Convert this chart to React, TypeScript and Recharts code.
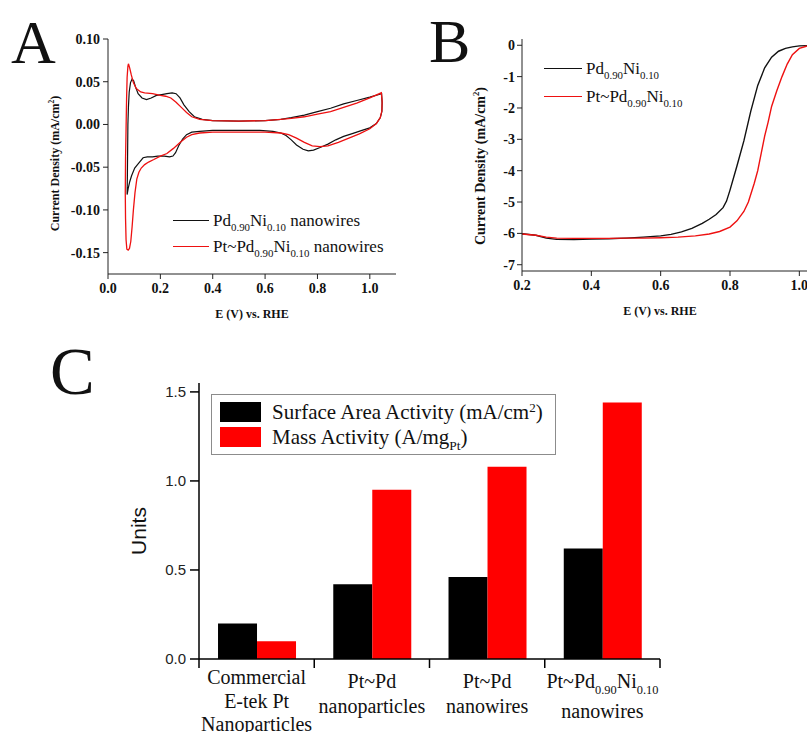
import React from "react";
import { LineChart, Line, BarChart, Bar, XAxis, YAxis, Legend } from "recharts";

const SERIF = '"Liberation Serif", "Times New Roman", serif';
const SANS = '"Liberation Sans", Arial, sans-serif';
const RED = "#ff0000";
const INK = "#111";

// ---- panel A: cyclic voltammograms (E vs RHE, current density) ----
const cvBlackE = [0.073, 0.074, 0.075, 0.076, 0.078, 0.081, 0.086, 0.092, 0.098, 0.105, 0.115, 0.13, 0.147, 0.165, 0.185, 0.205, 0.225, 0.245, 0.26, 0.275, 0.29, 0.31, 0.33, 0.36, 0.4, 0.5, 0.6, 0.66, 0.7, 0.75, 0.8, 0.85, 0.9, 0.95, 1.0, 1.045, 1.047, 1.046, 1.04, 1.025, 1.0, 0.97, 0.93, 0.9, 0.87, 0.84, 0.81, 0.785, 0.765, 0.745, 0.72, 0.7, 0.68, 0.66, 0.63, 0.58, 0.5, 0.4, 0.35, 0.32, 0.3, 0.285, 0.27, 0.258, 0.248, 0.235, 0.215, 0.19, 0.17, 0.15, 0.134, 0.115, 0.102, 0.09, 0.083, 0.077, 0.073];
const cvBlackJ = [-0.082, -0.06, -0.03, 0.0, 0.02, 0.038, 0.049, 0.053, 0.051, 0.044, 0.036, 0.031, 0.029, 0.031, 0.034, 0.035, 0.036, 0.037, 0.036, 0.031, 0.023, 0.015, 0.009, 0.006, 0.0045, 0.004, 0.0045, 0.006, 0.008, 0.011, 0.015, 0.019, 0.024, 0.028, 0.032, 0.036, 0.025, 0.015, 0.008, 0.001, -0.004, -0.007, -0.011, -0.014, -0.018, -0.023, -0.027, -0.03, -0.031, -0.029, -0.024, -0.018, -0.013, -0.01, -0.008, -0.007, -0.007, -0.007, -0.008, -0.009, -0.012, -0.017, -0.025, -0.033, -0.037, -0.038, -0.037, -0.037, -0.038, -0.038, -0.039, -0.046, -0.051, -0.06, -0.067, -0.075, -0.082];
const cvRedE = [0.078, 0.083, 0.089, 0.097, 0.108, 0.125, 0.14, 0.17, 0.2, 0.22, 0.24, 0.26, 0.28, 0.3, 0.32, 0.35, 0.4, 0.5, 0.6, 0.66, 0.7, 0.75, 0.8, 0.85, 0.9, 0.95, 1.0, 1.044, 1.047, 1.046, 1.04, 1.025, 1.0, 0.96, 0.92, 0.88, 0.84, 0.81, 0.78, 0.75, 0.72, 0.69, 0.66, 0.6, 0.5, 0.4, 0.35, 0.32, 0.3, 0.275, 0.25, 0.225, 0.2, 0.175, 0.155, 0.14, 0.127, 0.118, 0.11, 0.103, 0.097, 0.092, 0.087, 0.082, 0.077, 0.072, 0.069, 0.067, 0.066, 0.067, 0.069, 0.071, 0.073, 0.076, 0.078];
const cvRedJ = [0.071, 0.066, 0.058, 0.049, 0.042, 0.038, 0.037, 0.036, 0.034, 0.033, 0.031, 0.026, 0.02, 0.014, 0.009, 0.006, 0.0045, 0.004, 0.0045, 0.006, 0.007, 0.009, 0.012, 0.015, 0.02, 0.025, 0.031, 0.037, 0.027, 0.016, 0.008, 0.001, -0.005, -0.011, -0.016, -0.021, -0.025, -0.026, -0.025, -0.021, -0.016, -0.012, -0.01, -0.009, -0.009, -0.009, -0.01, -0.012, -0.015, -0.021, -0.028, -0.034, -0.037, -0.041, -0.044, -0.047, -0.051, -0.056, -0.064, -0.08, -0.1, -0.12, -0.137, -0.145, -0.147, -0.146, -0.135, -0.11, -0.08, -0.04, -0.005, 0.03, 0.055, 0.068, 0.071];
const cvTicksE = [0, 0.2, 0.4, 0.6, 0.8, 1.0];
const cvTicksJ = [-0.15, -0.1, -0.05, 0, 0.05, 0.1];
const cvNames = ["Pd_{0.90}Ni_{0.10} nanowires", "Pt~Pd_{0.90}Ni_{0.10} nanowires"];

// ---- panel B: ORR polarization curves ----
const lsvBlackE = [0.2, 0.24, 0.27, 0.3, 0.35, 0.4, 0.45, 0.5, 0.55, 0.6, 0.63, 0.66, 0.69, 0.72, 0.74, 0.76, 0.78, 0.79, 0.8, 0.82, 0.84, 0.86, 0.88, 0.9, 0.92, 0.94, 0.96, 0.98, 1.0, 1.03, 1.08];
const lsvBlackJ = [-6.01, -6.06, -6.15, -6.19, -6.2, -6.18, -6.17, -6.15, -6.12, -6.08, -6.03, -5.95, -5.84, -5.68, -5.55, -5.4, -5.18, -4.97, -4.62, -3.85, -3.05, -2.1, -1.28, -0.72, -0.38, -0.19, -0.1, -0.05, -0.02, -0.01, 0];
const lsvRedE = [0.2, 0.24, 0.27, 0.3, 0.35, 0.4, 0.45, 0.5, 0.55, 0.6, 0.65, 0.7, 0.74, 0.77, 0.8, 0.82, 0.84, 0.853, 0.87, 0.88, 0.89, 0.9, 0.91, 0.92, 0.935, 0.95, 0.965, 0.98, 1.0, 1.02, 1.04, 1.08];
const lsvRedJ = [-6.02, -6.06, -6.12, -6.15, -6.16, -6.16, -6.16, -6.15, -6.15, -6.14, -6.12, -6.08, -6.02, -5.94, -5.8, -5.6, -5.3, -5.0, -4.4, -4.0, -3.45, -2.9, -2.45, -1.95, -1.45, -1.0, -0.6, -0.3, -0.1, -0.03, -0.01, 0];
const lsvTicksE = [0.2, 0.4, 0.6, 0.8, 1.0];
const lsvTicksJ = [-7, -6, -5, -4, -3, -2, -1, 0];
const lsvNames = ["Pd_{0.90}Ni_{0.10}", "Pt~Pd_{0.90}Ni_{0.10}"];

// ---- panel C: activities ----
const categories = ["etek", "ptpd-np", "ptpd-nw", "ptpdni-nw"];
const categoryLabels = [
  ["Commercial", "E-tek Pt", "Nanoparticles"],
  ["Pt~Pd", "nanoparticles"],
  ["Pt~Pd", "nanowires"],
  ["Pt~Pd_{0.90}Ni_{0.10}", "nanowires"],
];
const surfaceActivity = [0.2, 0.42, 0.46, 0.62];
const massActivity = [0.1, 0.95, 1.08, 1.44];
const activityTicks = [0, 0.5, 1.0, 1.5];
const activityNames = ["Surface Area Activity (mA/cm^{2})", "Mass Activity (A/mg_{Pt})"];

const zip = (xs: number[], ys: number[]) => xs.map((e, i) => ({ e, j: ys[i] }));

// split "Pd_{0.90}" / "cm^{2}" into pieces
const splitRich = (s: string) => s.split(/(_\{[^}]*\}|\^\{[^}]*\})/).filter(Boolean);

function svgRich(s: string, size: number) {
  let shift = 0;
  return splitRich(s).map((p, i) => {
    let target = 0;
    let txt = p;
    let fs: number | undefined;
    if (p.startsWith("_{")) { target = size * 0.32; txt = p.slice(2, -1); fs = size * 0.62; }
    else if (p.startsWith("^{")) { target = -size * 0.42; txt = p.slice(2, -1); fs = size * 0.62; }
    const dy = target - shift;
    shift = target;
    return <tspan key={i} dy={dy} fontSize={fs}>{txt}</tspan>;
  });
}

function htmlRich(s: string) {
  return splitRich(s).map((p, i) => {
    if (p.startsWith("_{")) return <span key={i} style={{ fontSize: "0.64em", verticalAlign: "-0.42em", lineHeight: 0 }}>{p.slice(2, -1)}</span>;
    if (p.startsWith("^{")) return <span key={i} style={{ fontSize: "0.62em", verticalAlign: "0.55em", lineHeight: 0 }}>{p.slice(2, -1)}</span>;
    return <span key={i}>{p}</span>;
  });
}

function XTitle(props: any) {
  const vb = props.viewBox || { x: 0, y: 0, width: 0, height: 0 };
  const cx = vb.x + vb.width / 2 + (props.shiftX || 0);
  return (
    <text x={cx} y={vb.y + props.by} textAnchor="middle" fontFamily={SERIF} fontWeight={700} fontSize={props.size} fill={INK}>
      {props.t}
    </text>
  );
}

function YTitle(props: any) {
  const vb = props.viewBox || { x: 0, y: 0, width: 0, height: 0 };
  const cy = vb.y + vb.height / 2 + (props.shiftY || 0);
  const x = props.baseX;
  return (
    <text x={x} y={cy} transform={`rotate(-90 ${x} ${cy})`} textAnchor="middle" fontFamily={props.family || SERIF}
      fontWeight={props.weight || 700} fontSize={props.size} fill={INK}>
      {svgRich(props.t, props.size)}
    </text>
  );
}

function LineLegend({ names, colors, lineW, rowH, fontSize }: any) {
  return (
    <div style={{ fontFamily: SERIF, fontSize, color: INK }}>
      {names.map((n: string, i: number) => (
        <div key={n} style={{ display: "flex", alignItems: "center", height: rowH }}>
          <span style={{ width: lineW, height: 0, borderTop: `1.4px solid ${colors[i]}`, marginRight: 4, flex: "none" }} />
          <span style={{ lineHeight: 1, whiteSpace: "nowrap" }}>{htmlRich(n)}</span>
        </div>
      ))}
    </div>
  );
}

function BoxLegend() {
  const fills = ["#000", RED];
  return (
    <div style={{ boxSizing: "border-box", height: 61, border: "1.2px solid #8c8c8c", padding: "7px 8px", fontFamily: SERIF, fontSize: 21, color: INK, background: "#fff" }}>
      {activityNames.map((n, i) => (
        <div key={n} style={{ display: "flex", alignItems: "center", height: 20, marginBottom: 5 }}>
          <span style={{ width: 41, height: 20, background: fills[i], flex: "none" }} />
          <span style={{ marginLeft: 11, lineHeight: 1, whiteSpace: "nowrap" }}>{htmlRich(n)}</span>
        </div>
      ))}
    </div>
  );
}

const C_LEFT = 199;
const C_RIGHT = 147;
const C_WIDTH = 807;
const C_BAND = (C_WIDTH - C_LEFT - C_RIGHT) / categories.length;

function CategoryTick(props: any) {
  const { x, y } = props;
  const index = props.index ?? props.payload?.index ?? 0;
  const lines = categoryLabels[index] || [];
  const half = C_BAND / 2;
  const gap = lines.length > 2 ? 23.5 : 25;
  let ty = y + (lines.length > 2 ? 25 : 29);
  return (
    <g>
      <line x1={x - half} x2={x - half} y1={y} y2={y + 9} stroke="#000" strokeWidth={1.5} />
      {index === categories.length - 1 && <line x1={x + half} x2={x + half} y1={y} y2={y + 9} stroke="#000" strokeWidth={1.5} />}
      {lines.map((ln, i) => {
        if (i > 0) ty += gap + (lines[i - 1].includes("_{") ? 5 : 0);
        return (
          <text key={i} x={x} y={ty} textAnchor="middle" fontFamily={SERIF} fontSize={20} fill={INK}>
            {svgRich(ln, 20)}
          </text>
        );
      })}
    </g>
  );
}

const boldTick = (size: number) => ({ fill: INK, fontFamily: SERIF, fontWeight: 700, fontSize: size });

function PanelA() {
  return (
    <div style={{ position: "absolute", left: 0, top: 0 }}>
      <LineChart width={420} height={328} margin={{ top: 39, right: 24, bottom: 0, left: 0 }}>
        <XAxis dataKey="e" type="number" domain={[0, 1.1]} ticks={cvTicksE} interval={0} allowDataOverflow
          tickFormatter={(v: number) => v.toFixed(1)} height={54} tickSize={5} tickMargin={4} stroke="#222"
          tick={boldTick(14)} label={<XTitle t="E (V) vs. RHE" by={44} size={12} />} />
        <XAxis xAxisId="top" orientation="top" type="number" domain={[0, 1.1]} height={0} tick={false} tickLine={false} stroke="#222" />
        <YAxis type="number" domain={[-0.175, 0.1]} ticks={cvTicksJ} interval={0} allowDataOverflow width={108}
          tickFormatter={(v: number) => v.toFixed(2)} tickSize={5} tickMargin={3} stroke="#222" tick={boldTick(14)}
          label={<YTitle t="Current Density (mA/cm^{2})" baseX={59} shiftY={7} size={12} />} />
        <YAxis yAxisId="right" orientation="right" width={0} tick={false} tickLine={false} stroke="#222" />
        <Line data={zip(cvBlackE, cvBlackJ)} dataKey="j" type="linear" stroke="#111" strokeWidth={1.2} dot={false} isAnimationActive={false} />
        <Line data={zip(cvRedE, cvRedJ)} dataKey="j" type="linear" stroke="#ee1111" strokeWidth={1.3} dot={false} isAnimationActive={false} />
        <Legend layout="vertical" align="center" verticalAlign="middle" wrapperStyle={{ left: 173, top: 207, width: 240 }}
          content={() => <LineLegend names={cvNames} colors={["#111", "#ee1111"]} lineW={36} rowH={26} fontSize={17} />} />
      </LineChart>
    </div>
  );
}

function PanelB() {
  return (
    <div style={{ position: "absolute", left: 420, top: 0 }}>
      <LineChart width={430} height={328} margin={{ top: 39, right: 16, bottom: 0, left: 0 }}>
        <XAxis dataKey="e" type="number" domain={[0.2, 1.1]} ticks={lsvTicksE} interval={0} allowDataOverflow
          tickFormatter={(v: number) => v.toFixed(1)} height={57} tickSize={5} tickMargin={4} stroke="#222"
          tick={boldTick(14)} label={<XTitle t="E (V) vs. RHE" by={44} shiftX={-18} size={12} />} />
        <XAxis xAxisId="top" orientation="top" type="number" domain={[0.2, 1.1]} height={0} tick={false} tickLine={false} stroke="#222" />
        <YAxis type="number" domain={[-7.2, 0.2]} ticks={lsvTicksJ} interval={0} allowDataOverflow width={102}
          tickSize={5} tickMargin={2} stroke="#222" tick={boldTick(14)}
          label={<YTitle t="Current Density (mA/cm^{2})" baseX={65} shiftY={11} size={14} />} />
        <YAxis yAxisId="right" orientation="right" width={0} tick={false} tickLine={false} stroke="#222" />
        <Line data={zip(lsvBlackE, lsvBlackJ)} dataKey="j" type="linear" stroke="#111" strokeWidth={1.4} dot={false} isAnimationActive={false} />
        <Line data={zip(lsvRedE, lsvRedJ)} dataKey="j" type="linear" stroke="#ee1111" strokeWidth={1.4} dot={false} isAnimationActive={false} />
        <Legend layout="vertical" align="center" verticalAlign="middle" wrapperStyle={{ left: 124, top: 55, width: 200 }}
          content={() => <LineLegend names={lsvNames} colors={["#111", "#ee1111"]} lineW={38} rowH={27.5} fontSize={17} />} />
      </LineChart>
    </div>
  );
}

function PanelC() {
  const barData = categories.map((c, i) => ({ cat: c, surface: surfaceActivity[i], mass: massActivity[i] }));
  return (
    <div style={{ position: "absolute", left: 0, top: 330 }}>
      <BarChart width={C_WIDTH} height={402} data={barData} margin={{ top: 53, right: C_RIGHT, bottom: 0, left: 0 }}
        barCategoryGap="16.5%" barGap={0}>
        <XAxis dataKey="cat" interval={0} height={73} tickLine={false} tickSize={0} tickMargin={0}
          tick={<CategoryTick />} stroke="#000" strokeWidth={1.5} />
        <XAxis xAxisId="top" orientation="top" height={0} tick={false} tickLine={false} stroke="#000" strokeWidth={1.5} />
        <YAxis type="number" domain={[0, 1.55]} ticks={activityTicks} interval={0} width={C_LEFT}
          tickFormatter={(v: number) => v.toFixed(1)} tickSize={9} tickMargin={4} stroke="#000" strokeWidth={1.5}
          tick={{ fill: "#222", fontFamily: SANS, fontSize: 15 }}
          label={<YTitle t="Units" baseX={146} shiftY={10} size={21} family={SANS} weight={400} />} />
        <YAxis yAxisId="right" orientation="right" width={0} tick={false} tickLine={false} stroke="#000" strokeWidth={1.5} />
        <Bar dataKey="surface" fill="#000" isAnimationActive={false} />
        <Bar dataKey="mass" fill={RED} isAnimationActive={false} />
        <Legend layout="vertical" align="center" verticalAlign="middle" wrapperStyle={{ left: 211, top: 64, width: 345 }}
          content={() => <BoxLegend />} />
      </BarChart>
    </div>
  );
}

export default function App() {
  return (
    <div style={{ position: "fixed", left: 0, top: 0, width: 807, height: 732, overflow: "hidden", background: "#fff" }}>
      <PanelA />
      <PanelB />
      <PanelC />
      <svg width={807} height={732} style={{ position: "absolute", left: 0, top: 0, pointerEvents: "none" }}>
        <text x={11} y={63} fontFamily={SERIF} fontSize={62} fill={INK}>A</text>
        <text x={429} y={62} fontFamily={SERIF} fontSize={62} fill={INK}>B</text>
        <text x={50} y={394} fontFamily={SERIF} fontSize={67} fill={INK}>C</text>
      </svg>
    </div>
  );
}
